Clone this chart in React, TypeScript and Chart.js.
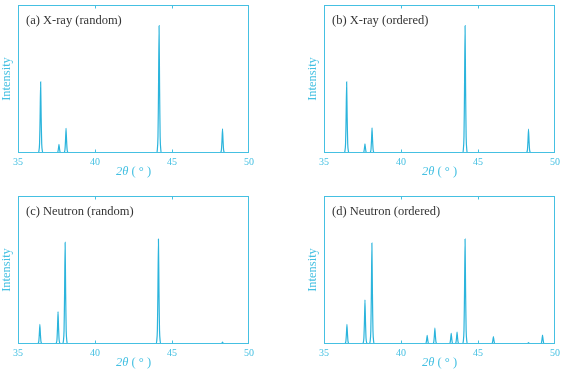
import React, { useEffect, useRef } from "react";
import { Chart, registerables } from "chart.js";

Chart.register(...registerables);

// Axis range and tick labels (2θ in degrees)
const xMin = 35;
const xMax = 50;
const xTickStep = 5;
const innerTickValues = [40, 45];

// Shape of one diffraction peak: offsets in degrees and relative height
const peakOffsets = [-0.17, -0.11, -0.07, -0.035, 0, 0.035, 0.07, 0.11, 0.17];
const peakProfile = [0, 0.03, 0.13, 0.5, 1, 0.5, 0.13, 0.03, 0];

// (a) X-ray, random alloy
const xrayRandomPos = [36.47, 37.66, 38.12, 44.16, 48.28];
const xrayRandomInt = [0.48, 0.059, 0.167, 0.86, 0.164];

// (b) X-ray, ordered alloy
const xrayOrderedPos = [36.47, 37.66, 38.12, 44.16, 48.28];
const xrayOrderedInt = [0.48, 0.062, 0.17, 0.86, 0.162];

// (c) Neutron, random alloy
const neutronRandomPos = [36.42, 37.6, 38.06, 44.12, 48.28];
const neutronRandomInt = [0.133, 0.219, 0.686, 0.709, 0.012];

// (d) Neutron, ordered alloy
const neutronOrderedPos = [36.49, 37.66, 38.11, 41.7, 42.2, 43.26, 43.64, 44.16, 46.0, 48.28, 49.19];
const neutronOrderedInt = [0.133, 0.298, 0.682, 0.058, 0.108, 0.072, 0.081, 0.709, 0.05, 0.01, 0.06];

const panelLabels = ["(a) X-ray (random)", "(b) X-ray (ordered)", "(c) Neutron (random)", "(d) Neutron (ordered)"];

const AXIS_COLOR = "#45c0e2";
const LINE_COLOR = "#2bb4dc";
const LABEL_COLOR = "#333333";
const SERIF = "'Liberation Serif', 'Times New Roman', serif";

const CANVAS_W = 270;
const CANVAS_H = 185;

function buildPattern(positions: number[], intensities: number[]) {
  const pts: { x: number; y: number }[] = [{ x: xMin, y: 0 }];
  const order = positions.map((_, i) => i).sort((a, b) => positions[a] - positions[b]);
  for (const i of order) {
    peakOffsets.forEach((off, k) => {
      pts.push({ x: positions[i] + off, y: intensities[i] * peakProfile[k] });
    });
  }
  pts.push({ x: xMax, y: 0 });
  return pts;
}

const framePlugin = {
  id: "xrdFrame",
  afterDatasetsDraw(chart: any, _args: any, opts: any) {
    const { ctx, chartArea: a, scales } = chart;
    const left = Math.round(a.left) + 0.5;
    const right = Math.round(a.right) - 0.5;
    const top = Math.round(a.top) + 0.5;
    const bottom = Math.round(a.bottom) - 0.5;
    ctx.save();
    ctx.strokeStyle = AXIS_COLOR;
    ctx.lineWidth = 1;
    ctx.strokeRect(left, top, right - left, bottom - top);
    // inward ticks on top and bottom edges
    ctx.beginPath();
    for (const v of innerTickValues) {
      const px = Math.round(scales.x.getPixelForValue(v)) + 0.5;
      ctx.moveTo(px, top);
      ctx.lineTo(px, top + 3);
      ctx.moveTo(px, bottom);
      ctx.lineTo(px, bottom - 3);
    }
    ctx.stroke();

    // panel label inside the plot
    ctx.fillStyle = LABEL_COLOR;
    ctx.font = `12.5px ${SERIF}`;
    ctx.textAlign = "left";
    ctx.textBaseline = "middle";
    ctx.fillText(opts.label, a.left + 8, a.top + 16);

    // x-axis title: italic 2θ followed by upright (°)
    const cx = (a.left + a.right) / 2;
    const ty = a.bottom + 19;
    const part1 = "2θ";
    const part2 = " ( ° )";
    ctx.font = `italic 12.5px ${SERIF}`;
    const w1 = ctx.measureText(part1).width;
    ctx.font = `12.5px ${SERIF}`;
    const w2 = ctx.measureText(part2).width;
    const startX = cx - (w1 + w2) / 2;
    ctx.fillStyle = AXIS_COLOR;
    ctx.font = `italic 12.5px ${SERIF}`;
    ctx.fillText(part1, startX, ty);
    ctx.font = `12.5px ${SERIF}`;
    ctx.fillText(part2, startX + w1, ty);
    ctx.restore();
  },
};

function Panel({ positions, intensities, label }: { positions: number[]; intensities: number[]; label: string }) {
  const ref = useRef<HTMLCanvasElement | null>(null);
  useEffect(() => {
    if (!ref.current) return;
    const chart = new Chart(ref.current, {
      type: "line",
      data: {
        datasets: [
          {
            data: buildPattern(positions, intensities),
            borderColor: LINE_COLOR,
            borderWidth: 1.2,
            pointRadius: 0,
            tension: 0.2,
            fill: false,
          },
        ],
      },
      options: {
        responsive: false,
        animation: false,
        layout: { padding: { top: 5, right: CANVAS_W - 249, left: 0, bottom: 0 } },
        plugins: {
          legend: { display: false },
          tooltip: { enabled: false },
          xrdFrame: { label },
        } as any,
        scales: {
          x: {
            type: "linear",
            min: xMin,
            max: xMax,
            grid: { display: false, drawTicks: false },
            border: { display: false },
            ticks: {
              stepSize: xTickStep,
              color: AXIS_COLOR,
              padding: 3,
              maxRotation: 0,
              font: { family: SERIF, size: 10 },
            },
            afterFit: (s: any) => {
              s.height = 32;
            },
          },
          y: {
            min: 0,
            max: 1,
            grid: { display: false, drawTicks: false },
            border: { display: false },
            ticks: { display: false },
            title: {
              display: true,
              text: "Intensity",
              color: AXIS_COLOR,
              padding: 0,
              font: { family: SERIF, size: 12.5, lineHeight: 1 },
            },
            afterFit: (s: any) => {
              s.width = 18;
            },
          },
        },
      },
      plugins: [framePlugin],
    });
    return () => chart.destroy();
  }, [positions, intensities, label]);
  return <canvas ref={ref} width={CANVAS_W} height={CANVAS_H} style={{ display: "block" }} />;
}

export default function App() {
  const cell = (left: number, top: number): React.CSSProperties => ({
    position: "absolute",
    left,
    top,
    width: CANVAS_W,
    height: CANVAS_H,
  });
  return (
    <div style={{ position: "fixed", left: 0, top: 0, width: 567, height: 371, background: "#ffffff" }}>
      <div style={cell(0, 0)}>
        <Panel positions={xrayRandomPos} intensities={xrayRandomInt} label={panelLabels[0]} />
      </div>
      <div style={cell(306, 0)}>
        <Panel positions={xrayOrderedPos} intensities={xrayOrderedInt} label={panelLabels[1]} />
      </div>
      <div style={cell(0, 191)}>
        <Panel positions={neutronRandomPos} intensities={neutronRandomInt} label={panelLabels[2]} />
      </div>
      <div style={cell(306, 191)}>
        <Panel positions={neutronOrderedPos} intensities={neutronOrderedInt} label={panelLabels[3]} />
      </div>
    </div>
  );
}
